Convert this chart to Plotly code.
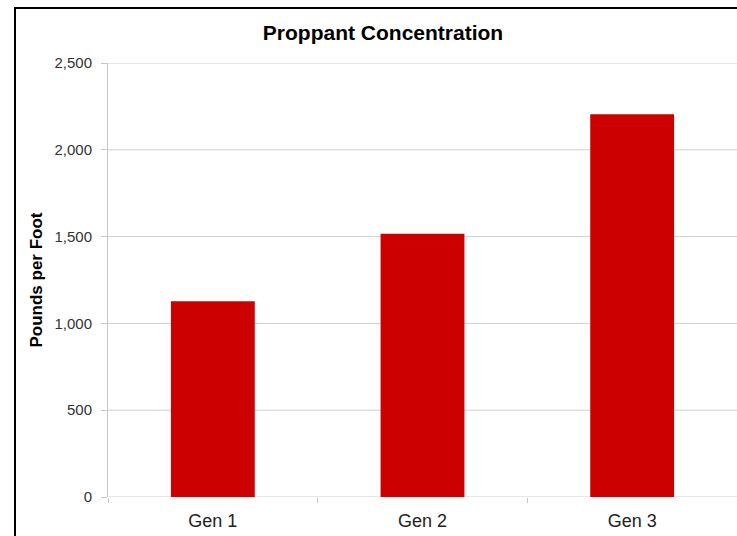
import plotly.graph_objects as go

categories = ["Gen 1", "Gen 2", "Gen 3"]
values = [1128, 1517, 2205]
y_ticks = [0, 500, 1000, 1500, 2000, 2500]
y_tick_labels = ["0", "500", "1,000", "1,500", "2,000", "2,500"]

W, H = 737, 536
L, R, T, B = 108, 0, 63, 39
pw, ph = W - L - R, H - T - B

def px_x(x):
    return (x - L) / pw

def px_y(y):
    return (H - B - y) / ph

FONT = "Liberation Sans, Arial, sans-serif"
GRID = "#d0d0d0"

fig = go.Figure(go.Bar(
    x=categories, y=values,
    marker=dict(color="#CC0000", line=dict(width=0)),
    width=0.4,
))

shapes = [
    dict(type="line", xref="paper", yref="paper",
         x0=px_x(15), x1=px_x(15), y0=px_y(540), y1=px_y(8),
         line=dict(color="black", width=2)),
    dict(type="line", xref="paper", yref="paper",
         x0=px_x(14), x1=px_x(740), y0=px_y(8), y1=px_y(8),
         line=dict(color="black", width=2)),
]
for v in y_ticks:
    shapes.append(dict(type="line", xref="paper", yref="y", x0=0, x1=1.02, y0=v, y1=v,
                       layer="below", line=dict(color=GRID, width=1)))

fig.update_layout(
    width=W, height=H, autosize=False,
    margin=dict(l=L, r=R, t=T, b=B, pad=0),
    paper_bgcolor="white", plot_bgcolor="white",
    font=dict(family=FONT, color="#222"),
    title=dict(text="<b>Proppant Concentration</b>", x=383 / W, xanchor="center",
               y=1 - 33 / H, yanchor="middle", font=dict(size=21, color="black")),
    showlegend=False,
    xaxis=dict(showline=False,
               ticks="outside", ticklen=5, tickcolor="#c8c8c8", tickson="boundaries",
               ticklabelstandoff=11,
               tickfont=dict(size=18, color="#222"), showgrid=False),
    yaxis=dict(range=[0, 2500], tickvals=y_ticks, ticktext=y_tick_labels,
               showline=True, linecolor="#c8c8c8", linewidth=1,
               ticks="outside", ticklen=6, tickcolor="#c8c8c8",
               ticklabelstandoff=6,
               showgrid=False, zeroline=False,
               tickfont=dict(size=15, color="#333"),
               title=dict(text="<b>Pounds per Foot</b>", font=dict(size=17, color="black"), standoff=7)),
    shapes=shapes,
)

fig.write_html("out.html", config={"displayModeBar": False},
               post_script="document.body.style.margin='0';document.body.style.overflow='hidden';"
                           "document.documentElement.style.overflow='hidden';")
